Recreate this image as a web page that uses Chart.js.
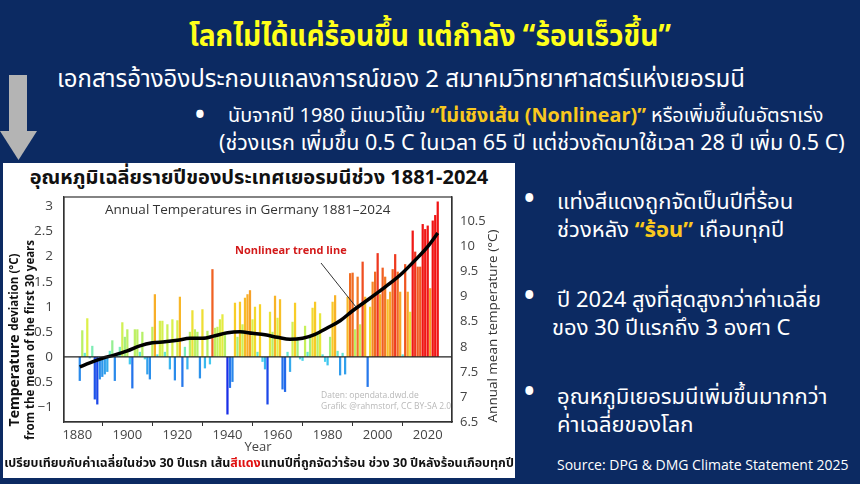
<!DOCTYPE html>
<html>
<head>
<meta charset="utf-8">
<script src="https://cdn.jsdelivr.net/npm/chart.js@4.4.1/dist/chart.umd.min.js"></script>
<style>
    html, body { margin: 0; padding: 0; }
    body {
        width: 860px; height: 484px; position: relative; overflow: hidden;
        background: #0c2a62; color: #fff;
        font-family: "Noto Sans Thai", "Noto Sans", "DejaVu Sans", sans-serif;
    }
    .t { position: absolute; white-space: nowrap; }
    .yl { color: #f9c81e; font-weight: bold; }
    #title { left: 0; width: 860px; top: 18px; text-align: center; font-size: 30px; font-weight: bold; color: #ffff1a; line-height: 38px; transform: scaleX(0.94); }
    #sub { left: 57px; top: 65px; font-size: 24px; line-height: 30px; }
    .b1 { font-size: 19.8px; line-height: 26px; }
    .bl { font-size: 26px; font-weight: bold; line-height: 26px; }
    #box { position: absolute; left: 3px; top: 163px; width: 512px; height: 315px; background: #fff; }
    #ctitle { left: 0; width: 512px; top: 2px; text-align: center; font-size: 20px; font-weight: bold; color: #111; line-height: 26px; }
    #cap { left: 0; width: 512px; top: 292px; text-align: center; font-size: 12.5px; font-weight: bold; color: #111; line-height: 18px; }
    #cap span { color: #e01010; }
    #chart { position: absolute; left: 0; top: 22px; }
    .r { font-size: 22px; line-height: 28px; }
    .dot { font-size: 28px; font-weight: bold; line-height: 28px; }
    #src { left: 557px; top: 455px; font-size: 14px; font-family: "Open Sans", sans-serif; line-height: 20px; }
</style>
</head>
<body>
<div id="title" class="t">โลกไม่ได้แค่ร้อนขึ้น แต่กำลัง “ร้อนเร็วขึ้น”</div>
<div id="sub" class="t">เอกสารอ้างอิงประกอบแถลงการณ์ของ 2 สมาคมวิทยาศาสตร์แห่งเยอรมนี</div>
<div class="t bl" style="left:195px;top:103px">•</div>
<div class="t b1" style="left:228px;top:103px">นับจากปี 1980 มีแนวโน้ม <span class="yl">“ไม่เชิงเส้น (Nonlinear)”</span> หรือเพิ่มขึ้นในอัตราเร่ง</div>
<div class="t b1" style="left:219px;top:131px;font-size:21.5px">(ช่วงแรก เพิ่มขึ้น 0.5 C ในเวลา 65 ปี แต่ช่วงถัดมาใช้เวลา 28 ปี เพิ่ม 0.5 C)</div>
<svg class="t" style="left:0;top:70px" width="40" height="92">
    <rect x="9" y="5" width="18" height="57" fill="#b4b4b4"/>
    <polygon points="0,61 37,61 18.5,90" fill="#b4b4b4"/>
</svg>

<div id="box">
    <div id="ctitle" class="t">อุณหภูมิเฉลี่ยรายปีของประเทศเยอรมนีช่วง 1881-2024</div>
    <canvas id="chart" width="512" height="270"></canvas>
    <div id="cap" class="t">เปรียบเทียบกับค่าเฉลี่ยในช่วง 30 ปีแรก เส้น<span>สีแดง</span>แทนปีที่ถูกจัดว่าร้อน ช่วง 30 ปีหลังร้อนเกือบทุกปี</div>
</div>

<div class="t dot" style="left:524px;top:186px">•</div>
<div class="t r" style="left:557px;top:189px">แท่งสีแดงถูกจัดเป็นปีที่ร้อน</div>
<div class="t r" style="left:557px;top:217px">ช่วงหลัง <span class="yl">“ร้อน”</span> เกือบทุกปี</div>
<div class="t dot" style="left:524px;top:283px">•</div>
<div class="t r" style="left:557px;top:287px">ปี 2024 สูงที่สุดสูงกว่าค่าเฉลี่ย</div>
<div class="t r" style="left:552px;top:315px">ของ 30 ปีแรกถึง 3 องศา C</div>
<div class="t dot" style="left:524px;top:379px">•</div>
<div class="t r" style="left:557px;top:384px">อุณหภูมิเยอรมนีเพิ่มขึ้นมากกว่า</div>
<div class="t r" style="left:557px;top:412px">ค่าเฉลี่ยของโลก</div>
<div id="src" class="t">Source: DPG &amp; DMG Climate Statement 2025</div>

<script>
// Abweichung vom Mittel 1881-1910 (°C), ein Wert pro Jahr ab 1881
const firstYear = 1881;
const deviations = [
    -0.48, 0.53, 0.08, 0.77, -0.03, 0.22, -0.85, -0.95, -0.45, -0.40,
    -0.35, -0.30, 0.12, 0.33, -0.48, 0.05, 0.20, 0.69, 0.40, 0.55,
    -0.15, -0.63, 0.55, 0.55, 0.10, 0.50, -0.05, -0.35, -0.45, 0.60,
    1.25, 0.05, 0.72, 0.72, 0.10, 0.65, -0.25, 0.75, -0.47, 0.73,
    1.20, -0.60, 0.20, -0.25, 0.50, 0.93, 0.55, 0.50, -0.43, 0.95,
    -0.23, 0.52, -0.15, 1.75, 0.58, 0.60, 0.75, 0.85, 0.50, -1.15,
    -0.62, -0.50, 1.08, 0.40, 1.10, 0.65, 1.18, 1.25, 1.33, 0.75,
    1.00, 0.10, 1.05, -0.10, -0.25, -0.95, 0.90, 0.50, 1.22, 0.78,
    1.15, -0.65, -0.70, 0.10, -0.30, 0.70, 1.08, 0.40, -0.05, -0.08,
    0.62, 0.10, 0.40, 0.98, 1.10, 0.50, 0.87, 0.05, -0.10, -0.17,
    0.40, 1.10, 1.23, 0.12, -0.37, 0.08, -0.35, 1.20, 1.67, 1.68,
    0.55, 1.60, 0.65, 1.90, 1.20, -0.60, 1.00, 1.50, 1.70, 2.07,
    1.25, 1.78, 1.60, 1.15, 1.30, 1.75, 2.05, 1.70, 1.30, 0.05,
    1.85, 1.30, 0.90, 2.52, 2.10, 1.80, 1.80, 2.65, 2.55, 2.62,
    1.37, 2.72, 2.83, 3.10
];

// nichtlinearer Trend
const trendYears = [1881, 1885, 1890, 1895, 1900, 1905, 1910, 1915, 1920, 1925,
    1930, 1935, 1940, 1945, 1950, 1955, 1960, 1965, 1970, 1975,
    1980, 1985, 1990, 1995, 2000, 2005, 2010, 2015, 2020, 2024];
const trendValues = [-0.20, -0.12, -0.03, 0.04, 0.12, 0.22, 0.28, 0.30, 0.33, 0.37,
    0.37, 0.42, 0.48, 0.50, 0.47, 0.44, 0.39, 0.35, 0.37, 0.45,
    0.58, 0.72, 0.92, 1.10, 1.28, 1.47, 1.68, 1.93, 2.20, 2.47];

const xTickYears = [1880, 1900, 1920, 1940, 1960, 1980, 2000, 2020];
const leftTickValues = [-1, -0.5, 0, 0.5, 1, 1.5, 2, 2.5, 3];
const leftTickLabels = ['\u22121', '0.5', '0', '0.5', '1', '1.5', '2', '2.5', '3'];
const rightTickValues = [6.5, 7, 7.5, 8, 8.5, 9, 9.5, 10, 10.5];
const baseTemp = 7.8;

// Farbskala (blau -> rot)
const colorStops = [
    [-1.2, [24, 40, 230]],
    [-0.8, [30, 90, 235]],
    [-0.4, [45, 150, 235]],
    [-0.1, [70, 210, 240]],
    [0.15, [110, 235, 200]],
    [0.45, [175, 240, 110]],
    [0.8, [225, 240, 70]],
    [1.05, [248, 210, 40]],
    [1.3, [248, 165, 40]],
    [1.7, [240, 105, 35]],
    [2.1, [238, 50, 30]],
    [2.6, [240, 20, 20]]
];
function colorFor(v) {
    if (v <= colorStops[0][0]) return 'rgb(' + colorStops[0][1].join(',') + ')';
    for (let i = 1; i < colorStops.length; i++) {
        if (v <= colorStops[i][0]) {
            const a = colorStops[i - 1], b = colorStops[i];
            const f = (v - a[0]) / (b[0] - a[0]);
            const c = a[1].map((k, j) => Math.round(k + (b[1][j] - k) * f));
            return 'rgb(' + c.join(',') + ')';
        }
    }
    return 'rgb(' + colorStops[colorStops.length - 1][1].join(',') + ')';
}

const barData = deviations.map((v, i) => ({ x: firstYear + i, y: v }));
const trendData = trendYears.map((yr, i) => ({ x: yr, y: trendValues[i] }));

const decor = {
    id: 'decor',
    afterDatasetsDraw(chart) {
        const { ctx, chartArea: a, scales } = chart;
        ctx.save();
        // Nulllinie
        const y0 = scales.y.getPixelForValue(0);
        ctx.strokeStyle = '#222';
        ctx.lineWidth = 1.3;
        ctx.beginPath();
        ctx.moveTo(a.left, y0);
        ctx.lineTo(a.right, y0);
        ctx.stroke();
        // Rahmen
        ctx.strokeStyle = '#333';
        ctx.lineWidth = 1.2;
        ctx.strokeRect(a.left, a.top, a.right - a.left, a.bottom - a.top);

        ctx.textBaseline = 'middle';
        ctx.textAlign = 'left';
        ctx.fillStyle = '#333';
        ctx.font = '13.5px "Open Sans", sans-serif';
        ctx.fillText('Annual Temperatures in Germany 1881\u20132024', a.left + 41, a.top + 13);

        ctx.fillStyle = '#d31a1a';
        ctx.font = 'bold 11px "Open Sans", sans-serif';
        ctx.fillText('Nonlinear trend line', a.left + 171, a.top + 54);
        ctx.strokeStyle = '#333';
        ctx.lineWidth = 1;
        ctx.beginPath();
        ctx.moveTo(a.left + 257, a.top + 66);
        ctx.lineTo(a.left + 292, a.top + 110);
        ctx.stroke();

        ctx.fillStyle = '#b8b8b8';
        ctx.font = '8.5px "Open Sans", sans-serif';
        ctx.fillText('Daten: opendata.dwd.de', a.left + 257, a.top + 199);
        ctx.fillText('Grafik: @rahmstorf, CC BY-SA 2.0', a.left + 257, a.top + 210);

        // Achsentitel links
        ctx.fillStyle = '#111';
        ctx.translate(12, a.top + 143);
        ctx.rotate(-Math.PI / 2);
        ctx.font = 'bold 14px "Open Sans", sans-serif';
        const w1 = ctx.measureText('Temperature ').width;
        ctx.font = 'bold 11.5px "Open Sans", sans-serif';
        const w2 = ctx.measureText('deviation (\u00b0C)').width;
        ctx.textAlign = 'left';
        ctx.font = 'bold 14px "Open Sans", sans-serif';
        ctx.fillText('Temperature ', -(w1 + w2) / 2, 0);
        ctx.font = 'bold 11.5px "Open Sans", sans-serif';
        ctx.fillText('deviation (\u00b0C)', -(w1 + w2) / 2 + w1, 0);
        ctx.textAlign = 'center';
        ctx.fillText('from the mean of the first 30 years', 0, 16);
        ctx.restore();

        // Achsentitel rechts
        ctx.save();
        ctx.fillStyle = '#333';
        ctx.translate(490, a.top + 129);
        ctx.rotate(-Math.PI / 2);
        ctx.textAlign = 'center';
        ctx.textBaseline = 'middle';
        ctx.font = '13.5px "Open Sans", sans-serif';
        ctx.fillText('Annual mean temperature (\u00b0C)', 0, 0);
        ctx.restore();
    }
};

new Chart(document.getElementById('chart').getContext('2d'), {
    type: 'bar',
    data: {
        datasets: [{
            type: 'line',
            data: trendData,
            borderColor: '#000',
            borderWidth: 3.5,
            pointRadius: 0,
            cubicInterpolationMode: 'monotone',
            yAxisID: 'y',
            order: 0
        }, {
            data: barData,
            backgroundColor: deviations.map(colorFor),
            barPercentage: 1,
            categoryPercentage: 0.9,
            yAxisID: 'y',
            order: 1
        }]
    },
    options: {
        responsive: false,
        animation: false,
        layout: { padding: { top: 12 } },
        plugins: { legend: { display: false }, tooltip: { enabled: false } },
        scales: {
            x: {
                type: 'linear',
                offset: false,
                min: 1874.7,
                max: 2029.7,
                afterBuildTicks: s => { s.ticks = xTickYears.map(v => ({ value: v })); },
                afterFit: s => { s.height = 33; },
                ticks: {
                    callback: v => String(v),
                    color: '#444',
                    font: { size: 13, family: '"Open Sans", sans-serif' },
                    padding: 1,
                    maxRotation: 0
                },
                grid: { drawOnChartArea: false, tickLength: 4, color: '#333' },
                border: { color: '#333', width: 1.2 },
                title: {
                    display: true, text: 'Year', color: '#444', padding: 0,
                    font: { size: 13, family: '"Open Sans", sans-serif' }
                }
            },
            y: {
                position: 'left',
                min: -1.3,
                max: 3.19,
                afterBuildTicks: s => { s.ticks = leftTickValues.map(v => ({ value: v })); },
                afterFit: s => { s.width = 61; },
                ticks: {
                    callback: (v, i) => leftTickLabels[i],
                    color: '#444',
                    font: { size: 13.5, family: '"Open Sans", sans-serif' },
                    padding: 3
                },
                grid: { display: false },
                border: { color: '#333', width: 1.2 }
            },
            y2: {
                position: 'right',
                min: -1.3 + baseTemp,
                max: 3.19 + baseTemp,
                afterBuildTicks: s => { s.ticks = rightTickValues.map(v => ({ value: v })); },
                afterFit: s => { s.width = 63; },
                ticks: {
                    callback: v => String(v),
                    color: '#444',
                    font: { size: 13, family: '"Open Sans", sans-serif' },
                    padding: 0
                },
                grid: { display: false },
                border: { color: '#333', width: 1.2 }
            }
        }
    },
    plugins: [decor]
});
</script>
</body>
</html>
